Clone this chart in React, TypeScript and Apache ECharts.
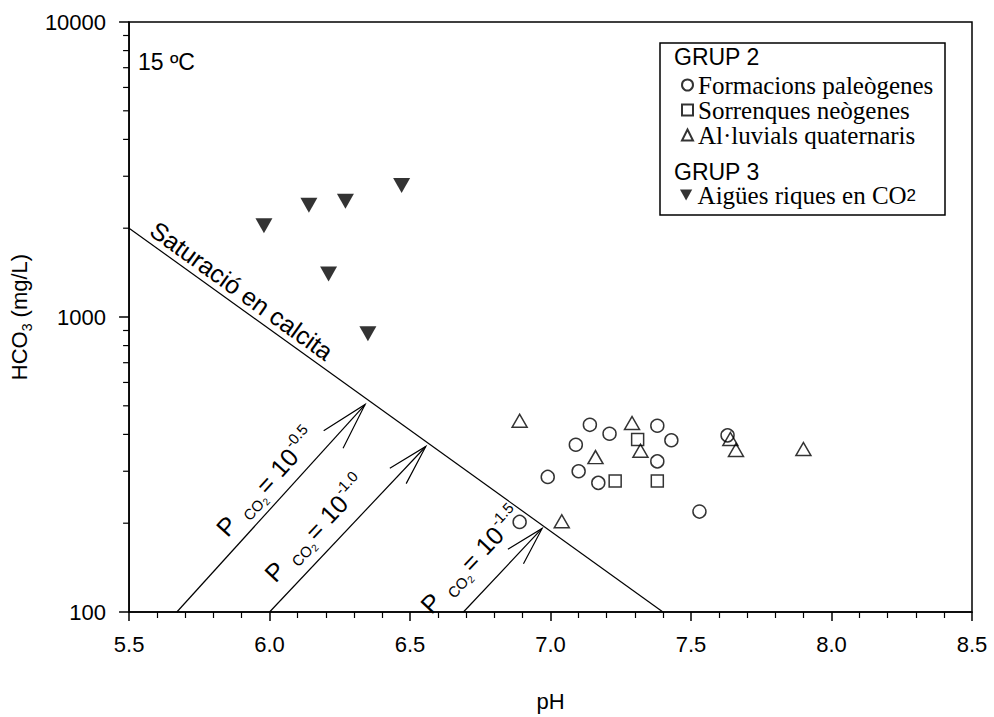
import { useEffect, useRef } from "react";
import * as echarts from "echarts";

const SANS = '"Liberation Sans", Arial, Helvetica, sans-serif';
const SERIF = '"Liberation Serif", "Times New Roman", Times, serif';

// ---- data ----
const grup3PH = [5.98, 6.14, 6.27, 6.47, 6.21, 6.35];
const grup3HCO3 = [2040, 2390, 2470, 2790, 1400, 877];

const paleoPH = [7.14, 7.21, 7.09, 7.38, 7.43, 7.38, 7.1, 6.99, 7.17, 7.63, 7.53, 6.89];
const paleoHCO3 = [431, 402, 369, 428, 382, 324, 300, 287, 274, 397, 219, 202];

const neoPH = [7.31, 7.23, 7.38];
const neoHCO3 = [384, 278, 278];

const alluPH = [6.89, 7.29, 7.16, 7.32, 7.64, 7.66, 7.9, 7.04];
const alluHCO3 = [445, 437, 335, 352, 386, 354, 357, 203];

const saturationStart = [5.5, 2000];
const saturationEnd = [7.4, 100];

const arrowStarts = [[5.67, 100], [6.0, 100], [6.69, 100]];
const arrowEnds = [[6.34, 505], [6.556, 364], [6.97, 192]];
const pco2Exponents = ["-0.5", "-1.0", "-1.5"];

const yMinorTicks = [200, 300, 400, 500, 600, 700, 800, 900, 2000, 3000, 4000, 5000, 6000, 7000, 8000, 9000];

const seriesNames = ["Formacions paleògenes", "Sorrenques neògenes", "Al·luvials quaternaris", "Aigües riques en CO2"];

// ---- layout constants ----
const LABEL_ALONG = [97, 33, -16];
const LABEL_PERP = [21, 24, 30];
const HEAD_LEN = [49, 42, 40];

const zip = (a: number[], b: number[]) => a.map((v, i) => [v, b[i]]);

const hollow = { color: "rgba(0,0,0,0)", borderColor: "#000", borderWidth: 1.5 };

function txt(text: string, x: number, y: number, size: number, align = "left") {
  return {
    type: "text",
    x,
    y,
    style: { text, fontSize: size, fontFamily: SANS, fill: "#000", align, verticalAlign: "middle" },
  };
}

const option: any = {
  animation: false,
  grid: { left: 125, right: 22, top: 22, bottom: 102, show: true, borderColor: "#000", borderWidth: 1.5 },
  xAxis: {
    type: "value",
    min: 5.5,
    max: 8.5,
    interval: 0.5,
    name: "pH",
    nameLocation: "middle",
    nameGap: 78,
    nameTextStyle: { fontSize: 22, fontFamily: SANS, color: "#000" },
    axisLine: { show: true, onZero: false, lineStyle: { color: "#000", width: 1.5 } },
    axisTick: { show: true, inside: false, length: 9, lineStyle: { color: "#000", width: 1.5 } },
    minorTick: { show: true, splitNumber: 5, length: 6, lineStyle: { color: "#000", width: 1.2 } },
    splitLine: { show: false },
    axisLabel: { formatter: (v: number) => v.toFixed(1), fontSize: 22, fontFamily: SANS, color: "#000", margin: 21 },
  },
  yAxis: {
    type: "log",
    logBase: 10,
    min: 100,
    max: 10000,
    name: "{a|HCO}{s|3}{a| (mg/L)}",
    nameLocation: "middle",
    nameGap: 77,
    nameTextStyle: {
      color: "#000",
      rich: {
        a: { fontSize: 22, fontFamily: SANS, color: "#000", lineHeight: 30 },
        s: { fontSize: 14, fontFamily: SANS, color: "#000", lineHeight: 14, verticalAlign: "bottom" },
      },
    },
    axisLine: { show: true, onZero: false, lineStyle: { color: "#000", width: 1.5 } },
    axisTick: { show: true, inside: false, length: 10, lineStyle: { color: "#000", width: 1.5 } },
    splitLine: { show: false },
    axisLabel: { formatter: (v: number) => String(Math.round(v)), fontSize: 22, fontFamily: SANS, color: "#000", margin: 23 },
  },
  legend: [
    {
      data: seriesNames.slice(0, 3),
      orient: "vertical",
      left: 681,
      top: 72.5,
      itemWidth: 11,
      itemHeight: 11,
      itemGap: 0,
      padding: 0,
      selectedMode: false,
      textStyle: { fontFamily: SERIF, fontSize: 25, lineHeight: 25, color: "#000" },
    },
    {
      data: [seriesNames[3]],
      orient: "vertical",
      left: 680,
      top: 182.5,
      itemWidth: 13,
      itemHeight: 11,
      itemGap: 0,
      padding: 0,
      selectedMode: false,
      formatter: () => "{t|Aigües riques en CO}{s|2}",
      textStyle: {
        color: "#000",
        rich: {
          t: { fontFamily: SERIF, fontSize: 25, lineHeight: 25, color: "#000" },
          s: { fontFamily: SANS, fontSize: 17, color: "#000" },
        },
      },
    },
  ],
  graphic: [
    { type: "rect", shape: { x: 660, y: 43, width: 285, height: 172 }, style: { fill: "none", stroke: "#000", lineWidth: 1.5 } },
    { type: "text", x: 674, y: 57, style: { text: "GRUP 2", fontSize: 23, fontFamily: SANS, fill: "#000", verticalAlign: "middle" } },
    { type: "text", x: 674, y: 172, style: { text: "GRUP 3", fontSize: 23, fontFamily: SANS, fill: "#000", verticalAlign: "middle" } },
    { type: "text", x: 138, y: 62, style: { text: "15 ºC", fontSize: 23, fontFamily: SANS, fill: "#000", verticalAlign: "middle" } },
  ],
  series: [
    {
      type: "custom",
      name: "minorY",
      silent: true,
      clip: false,
      data: yMinorTicks.map((v) => [5.5, v]),
      renderItem: (params: any, api: any) => {
        const p = api.coord([api.value(0), api.value(1)]);
        return { type: "line", shape: { x1: p[0] - 6, y1: p[1], x2: p[0], y2: p[1] }, style: { stroke: "#000", lineWidth: 1.2 } };
      },
    },
    {
      type: "custom",
      name: "saturation",
      silent: true,
      dimensions: ["x0", "y0", "x1", "y1"],
      encode: { x: [0, 2], y: [1, 3] },
      data: [[saturationStart[0], saturationStart[1], saturationEnd[0], saturationEnd[1]]],
      renderItem: (params: any, api: any) => {
        const s = api.coord([api.value(0), api.value(1)]);
        const e = api.coord([api.value(2), api.value(3)]);
        const dx = e[0] - s[0], dy = e[1] - s[1];
        const len = Math.hypot(dx, dy);
        const ux = dx / len, uy = dy / len;
        const nx = uy, ny = -ux;
        const ang = Math.atan2(-dy, dx);
        const along = 128, perp = 15;
        return {
          type: "group",
          children: [
            { type: "line", shape: { x1: s[0], y1: s[1], x2: e[0], y2: e[1] }, style: { stroke: "#000", lineWidth: 1.2 } },
            {
              type: "text",
              x: s[0] + ux * along + nx * perp,
              y: s[1] + uy * along + ny * perp,
              rotation: ang,
              style: { text: "Saturació en calcita", fontSize: 25, fontFamily: SANS, fill: "#000", align: "center", verticalAlign: "middle" },
            },
          ],
        };
      },
    },
    {
      type: "custom",
      name: "pco2",
      silent: true,
      dimensions: ["x0", "y0", "x1", "y1"],
      encode: { x: [0, 2], y: [1, 3] },
      data: arrowStarts.map((s, i) => [s[0], s[1], arrowEnds[i][0], arrowEnds[i][1]]),
      renderItem: (params: any, api: any) => {
        const i = params.dataIndex;
        const s = api.coord([api.value(0), api.value(1)]);
        const e = api.coord([api.value(2), api.value(3)]);
        const dx = e[0] - s[0], dy = e[1] - s[1];
        const len = Math.hypot(dx, dy);
        const ux = dx / len, uy = dy / len;
        const nx = uy, ny = -ux;
        const ang = Math.atan2(-dy, dx);
        const hl = HEAD_LEN[i];
        const sp = (15.5 * Math.PI) / 180;
        const bx = -ux, by = -uy;
        const b1 = [bx * Math.cos(sp) - by * Math.sin(sp), bx * Math.sin(sp) + by * Math.cos(sp)];
        const b2 = [bx * Math.cos(-sp) - by * Math.sin(-sp), bx * Math.sin(-sp) + by * Math.cos(-sp)];
        const ox = s[0] + ux * LABEL_ALONG[i] + nx * LABEL_PERP[i];
        const oy = s[1] + uy * LABEL_ALONG[i] + ny * LABEL_PERP[i];
        return {
          type: "group",
          children: [
            { type: "line", shape: { x1: s[0], y1: s[1], x2: e[0], y2: e[1] }, style: { stroke: "#000", lineWidth: 1.2 } },
            {
              type: "polyline",
              shape: { points: [[e[0] + b1[0] * hl, e[1] + b1[1] * hl], [e[0], e[1]], [e[0] + b2[0] * hl, e[1] + b2[1] * hl]] },
              style: { stroke: "#000", fill: "none", lineWidth: 1.2 },
            },
            {
              type: "group",
              x: ox,
              y: oy,
              rotation: ang,
              children: [
                txt("P", 0, 0, 25, "center"),
                txt("CO", 19, 9, 15),
                txt("2", 42, 13, 10),
                txt("=", 57, 1, 25, "center"),
                txt("10", 72, 0, 25),
                txt(pco2Exponents[i], 100.5, -9, 15),
              ],
            },
          ],
        };
      },
    },
    {
      type: "scatter",
      name: seriesNames[0],
      symbol: "circle",
      symbolSize: 13,
      itemStyle: hollow,
      data: zip(paleoPH, paleoHCO3),
    },
    {
      type: "scatter",
      name: seriesNames[1],
      symbol: "rect",
      symbolSize: 12,
      itemStyle: hollow,
      data: zip(neoPH, neoHCO3),
    },
    {
      type: "scatter",
      name: seriesNames[2],
      symbol: "triangle",
      symbolSize: [15, 13],
      itemStyle: hollow,
      data: zip(alluPH, alluHCO3),
    },
    {
      type: "scatter",
      name: seriesNames[3],
      symbol: "path://M0,0L20,0L10,18Z",
      symbolSize: [17, 15],
      itemStyle: { color: "#000" },
      data: zip(grup3PH, grup3HCO3),
    },
  ],
};

export default function App() {
  const ref = useRef<HTMLDivElement>(null);
  useEffect(() => {
    const chart = echarts.init(ref.current!, null, { renderer: "svg" });
    chart.setOption(option);
    return () => chart.dispose();
  }, []);
  return <div ref={ref} style={{ position: "fixed", left: 0, top: 0, width: 994, height: 717, background: "#fff" }} />;
}
